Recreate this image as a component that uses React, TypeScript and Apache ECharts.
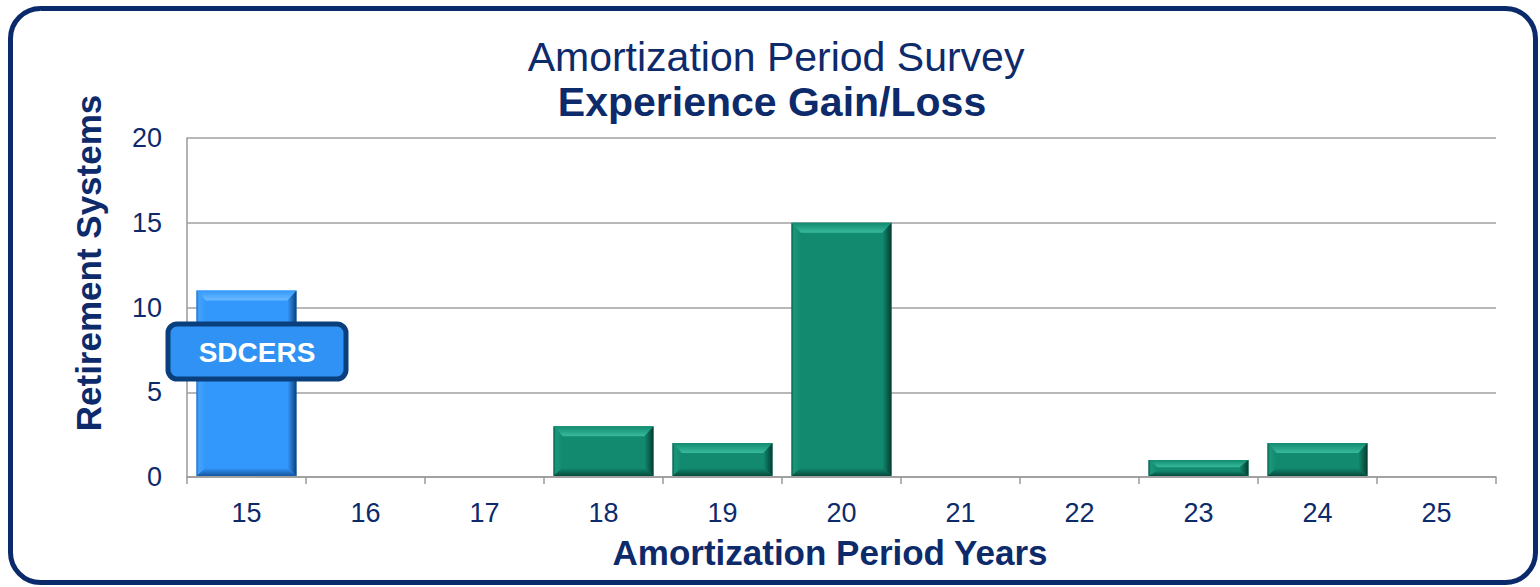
import React, { useEffect, useRef } from "react";
import * as echarts from "echarts";

const categories = ["15", "16", "17", "18", "19", "20", "21", "22", "23", "24", "25"];
const systems = [11, 0, 0, 3, 2, 15, 0, 0, 1, 2, 0];
const highlightIndex = 0;
const yTicks = { min: 0, max: 20, interval: 5 };

const NAVY = "#0d2a6b";
const FONT = "'Liberation Sans', Arial, sans-serif";

const palettes = {
  green: { main: "#118a70", top: "#38ba9d", left: "#1a977b", right: "#053d30", bottom: "#064a3a", edge: "#0a5a47" },
  blue: { main: "#3398fb", top: "#6cbaff", left: "#44a2fc", right: "#0d3f78", bottom: "#14559f", edge: "#1c6cc2" },
};

export default function App() {
  const ref = useRef<HTMLDivElement>(null);
  useEffect(() => {
    document.body.style.margin = "0";
    const chart = echarts.init(ref.current!, undefined, { renderer: "svg" });
    const data = systems.map((v, i) => [i, v]);
    chart.setOption({
      animation: false,
      backgroundColor: "#ffffff",
      grid: { left: 187, right: 44, top: 138, bottom: 110 },
      xAxis: {
        type: "category",
        data: categories,
        boundaryGap: true,
        axisLine: { show: true, lineStyle: { color: "#9a9a9a", width: 1.5 } },
        axisTick: { show: true, interval: 0, length: 7, lineStyle: { color: "#9a9a9a", width: 1.5 } },
        axisLabel: { color: NAVY, fontSize: 27, fontFamily: FONT, margin: 22 },
      },
      yAxis: {
        type: "value",
        min: yTicks.min,
        max: yTicks.max,
        interval: yTicks.interval,
        axisLine: { show: true, lineStyle: { color: "#9a9a9a", width: 1.5 } },
        axisTick: { show: false },
        splitLine: { show: true, lineStyle: { color: "#a0a0a0", width: 1.5 } },
        axisLabel: { color: NAVY, fontSize: 27, fontFamily: FONT, margin: 25 },
      },
      series: [
        {
          type: "custom",
          data,
          encode: { x: 0, y: 1 },
          z: 2,
          renderItem: (params: any, api: any) => {
            const idx = api.value(0);
            const val = api.value(1);
            if (!val) return { type: "group", children: [] };
            const top = api.coord([idx, val]);
            const base = api.coord([idx, 0]);
            const band = api.size([1, 0])[0];
            const w = band * 0.84;
            const x0 = top[0] - w / 2;
            const x1 = top[0] + w / 2;
            const y0 = top[1];
            const y1 = base[1] - 1;
            const h = y1 - y0;
            const bt = Math.min(10, h / 2.2);
            const bs = Math.min(9, w / 4);
            const bb = Math.min(8, h / 3);
            const p = idx === highlightIndex ? palettes.blue : palettes.green;
            return {
              type: "group",
              children: [
                { type: "rect", shape: { x: x0, y: y0, width: w, height: h }, style: { fill: p.main } },
                {
                  type: "polygon",
                  shape: { points: [[x0, y0], [x1, y0], [x1 - bs, y0 + bt], [x0 + bs, y0 + bt]] },
                  style: {
                    fill: new echarts.graphic.LinearGradient(0, 0, 0, 1, [
                      { offset: 0, color: p.main },
                      { offset: 1, color: p.top },
                    ]),
                  },
                },
                {
                  type: "polygon",
                  shape: { points: [[x0, y0], [x0 + bs, y0 + bt], [x0 + bs, y1 - bb], [x0, y1]] },
                  style: {
                    fill: new echarts.graphic.LinearGradient(0, 0, 1, 0, [
                      { offset: 0, color: p.edge },
                      { offset: 0.25, color: p.left },
                      { offset: 1, color: p.main },
                    ]),
                  },
                },
                {
                  type: "polygon",
                  shape: { points: [[x1, y0], [x1, y1], [x1 - bs, y1 - bb], [x1 - bs, y0 + bt]] },
                  style: {
                    fill: new echarts.graphic.LinearGradient(0, 0, 1, 0, [
                      { offset: 0, color: p.main },
                      { offset: 1, color: p.right },
                    ]),
                  },
                },
                {
                  type: "polygon",
                  shape: { points: [[x0, y1], [x0 + bs, y1 - bb], [x1 - bs, y1 - bb], [x1, y1]] },
                  style: {
                    fill: new echarts.graphic.LinearGradient(0, 0, 0, 1, [
                      { offset: 0, color: p.main },
                      { offset: 1, color: p.bottom },
                    ]),
                  },
                },
              ],
            };
          },
        },
      ],
      graphic: [
        {
          type: "rect",
          shape: { x: 10.5, y: 8.5, width: 1525, height: 574, r: 30 },
          style: { fill: "none", stroke: "#0a2a6b", lineWidth: 5 },
          z: 100,
        },
        {
          type: "text",
          x: 776,
          y: 57,
          style: { text: "Amortization Period Survey", fill: NAVY, font: `41px ${FONT}`, textAlign: "center", textVerticalAlign: "middle" },
        },
        {
          type: "text",
          x: 772,
          y: 102,
          style: { text: "Experience Gain/Loss", fill: NAVY, font: `bold 41px ${FONT}`, textAlign: "center", textVerticalAlign: "middle" },
        },
        {
          type: "text",
          x: 88,
          y: 263,
          rotation: Math.PI / 2,
          style: { text: "Retirement Systems", fill: NAVY, font: `bold 35px ${FONT}`, textAlign: "center", textVerticalAlign: "middle" },
        },
        {
          type: "text",
          x: 830,
          y: 552,
          style: { text: "Amortization Period Years", fill: NAVY, font: `bold 35px ${FONT}`, textAlign: "center", textVerticalAlign: "middle" },
        },
        {
          type: "rect",
          shape: { x: 168, y: 324, width: 178, height: 55, r: 9 },
          style: { fill: "#2f92f4", stroke: "#0a3f7e", lineWidth: 5 },
          z: 50,
        },
        {
          type: "text",
          x: 257,
          y: 352,
          z: 51,
          style: { text: "SDCERS", fill: "#ffffff", font: `bold 28px ${FONT}`, textAlign: "center", textVerticalAlign: "middle" },
        },
      ],
    });
    return () => chart.dispose();
  }, []);
  return <div ref={ref} style={{ width: 1540, height: 587 }} />;
}
